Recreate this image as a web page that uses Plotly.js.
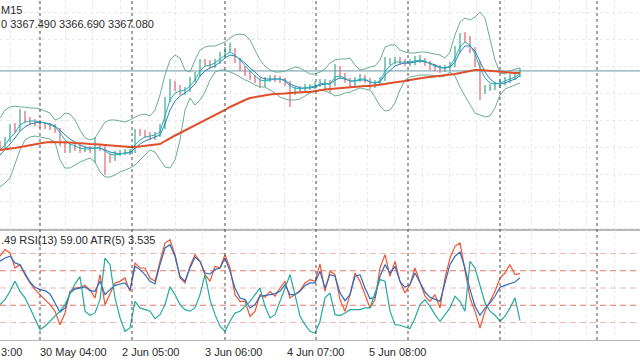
<!DOCTYPE html>
<html><head><meta charset="utf-8">
<script src="https://cdn.plot.ly/plotly-3.0.1.min.js"></script>
<style>html,body{margin:0;padding:0;background:#fff}#chart{width:640px;height:360px}</style>
</head><body><div id="chart"></div>
<script>
// ---- price candles (one sample per 5 px of the original chart) ----
const openP = [3331,3329,3332.5,3339,3337.5,3346,3342.5,3341.5,3341,3340,
3339.5,3339,3337.5,3331,3327.5,3329,3328.5,3327.5,3328,3327.5,
3329,3328.5,3324,3323.5,3325.5,3326,3326.5,3326.5,3336.5,3336,
3335,3334,3335,3339,3352.5,3361,3358.5,3356.5,3357.5,3362.5,
3365,3371.5,3371,3370,3371.5,3375,3377.5,3377.5,3372.5,3368.5,
3366,3364,3362.5,3360,3362.5,3363.5,3363,3362.5,3361,3356.5,
3357.5,3358,3359,3359,3360,3361.5,3361.5,3360,3368.5,3365,
3362.5,3360,3362.5,3364,3362.5,3360,3361,3362.5,3371.5,3371.5,
3372.5,3371.5,3371,3371.5,3372.5,3372.5,3371,3369,3368.5,3367.5,
3368.5,3370,3377.5,3384,3383.5,3377.5,3371,3357.5,3358.5,3359,
3360,3361.5,3362.5,3364,3365];
const highP = [3332,3334,3340.5,3341,3348,3347,3344,3343,3342.5,3341.5,
3341,3340.5,3338.5,3332,3330.5,3330.5,3330,3329.5,3329.5,3334,
3330.5,3329.5,3325.5,3327,3327.5,3328,3328,3338,3338,3337.5,
3336.5,3336.5,3340.5,3354,3363,3362,3360,3359,3364,3366.5,
3373,3373,3372.5,3373,3376.5,3379,3381,3378.5,3373.5,3369.5,
3367,3365,3363.5,3364,3365,3365,3364.5,3363.5,3362,3359,
3359.5,3360.5,3360.5,3361.5,3363,3363,3362.5,3370.5,3369.5,3366,
3363.5,3364,3365.5,3365,3363.5,3362.5,3364,3374,3373.5,3374,
3374,3373,3373,3374.5,3375,3373.5,3372,3370.5,3370,3370,
3371.5,3379.5,3386,3386.5,3384.5,3379,3372,3360,3360.5,3361.5,
3363,3364,3365.5,3366.5,3368.5];
const lowP = [3327.5,3328,3331.5,3336,3337,3341,3340,3339.5,3338.5,3338,
3337.5,3336,3329.5,3326,3326,3327,3326,3326.5,3326,3321,
3327,3315,3321,3322,3324.5,3325,3325,3326,3334.5,3333.5,
3332.5,3332.5,3334,3338,3351.5,3357,3355,3355,3356.5,3361.5,
3364,3369.5,3368.5,3368.5,3370.5,3374,3376,3371,3367,3364.5,
3362.5,3361,3358.5,3359,3361.5,3361.5,3361,3359.5,3349,3355,
3356,3357,3357.5,3358,3359,3358,3356,3359.5,3363.5,3361,
3358.5,3359,3361.5,3361,3358,3358.5,3360,3362,3370,3370.5,
3370,3369.5,3369.5,3370,3371,3369.5,3367.5,3367,3366,3366.5,
3367,3369,3376.5,3381,3376,3369,3352.5,3355.5,3357,3357.5,
3358.5,3360,3361,3362.5,3364];
const closeP = [3329,3332.5,3339,3337.5,3346,3342.5,3341.5,3341,3340,3339.5,
3339,3337.5,3331,3327.5,3329,3328.5,3327.5,3328,3327.5,3329,
3328.5,3324,3323.5,3325.5,3326,3326.5,3326.5,3336.5,3336,3335,
3334,3335,3339,3352.5,3361,3358.5,3356.5,3357.5,3362.5,3365,
3371.5,3371,3370,3371.5,3375,3377.5,3377.5,3372.5,3368.5,3366,
3364,3362.5,3360,3362.5,3363.5,3363,3362.5,3361,3356.5,3357.5,
3358,3359,3359,3360,3361.5,3361.5,3360,3368.5,3365,3362.5,
3360,3362.5,3364,3362.5,3360,3361,3362.5,3371.5,3371.5,3372.5,
3371.5,3371,3371.5,3372.5,3372.5,3371,3369,3368.5,3367.5,3368.5,
3370,3377.5,3384,3383.5,3377.5,3371,3357.5,3358.5,3359,3360,
3361.5,3362.5,3364,3365,3367.08];

// ---- price indicators ----
const bbUpper = [3343.5,3347.5,3349,3349.5,3349,3349,3348.5,3348.5,3348,3347,
3346,3342.5,3343.5,3346,3345.5,3342.5,3337.5,3333.5,3332.5,3333.5,
3337.5,3341.5,3342.5,3342.5,3342,3341.5,3342.5,3344,3345,3345.5,
3344.5,3347.5,3355,3365,3372.5,3375,3373.5,3367.5,3366.5,3372.5,
3377.5,3379,3379.5,3379.5,3380.5,3381.5,3383.5,3385,3385.5,3385,
3382.5,3377.5,3372.5,3369.5,3367.5,3366.5,3366.5,3367,3368,3369,
3368.5,3367,3365.5,3365.5,3366.5,3368,3371,3372.5,3373,3373,
3373.5,3370,3367.5,3368,3369,3369.5,3372.5,3379,3380,3380,
3377.5,3376.5,3376,3376,3376.5,3376.5,3376,3375.5,3375,3373.5,
3376.5,3385,3391.5,3393.5,3392.5,3394,3396.5,3393.5,3383.5,3372.5,
3366,3365.5,3367,3368,3368.5];
const bbLower = [3309,3311,3313.5,3320,3327.5,3332.5,3334,3334.5,3334,3333.5,
3333,3331.5,3322.5,3318.5,3318.5,3320,3321.5,3322.5,3323.5,3321.5,
3316.5,3314,3314,3315,3316.5,3317.5,3318.5,3320,3322.5,3325,
3327.5,3326.5,3322.5,3319,3318.5,3322.5,3332.5,3347.5,3353.5,3350,
3352.5,3356.5,3362.5,3366.5,3367.5,3367.5,3366.5,3365.5,3364,3362.5,
3361.5,3360,3359,3359,3357.5,3356,3354,3353,3352.5,3352.5,
3353,3354.5,3356,3357,3357.5,3357,3356,3354.5,3355,3356,
3356.5,3357.5,3358.5,3358,3357.5,3354,3349.5,3347,3347.5,3351,
3357.5,3362.5,3364,3364.5,3365,3365,3365,3364.5,3364,3364.5,
3366.5,3364.5,3359,3354.5,3350,3346,3345,3344,3344.5,3348.5,
3355,3358,3359,3360,3361];
const maFast = [3327.5,3330,3333.5,3336,3340,3341.5,3342,3342,3341.5,3341,
3340,3339,3336,3332.5,3330.5,3329.5,3328.5,3328,3328,3328.5,
3328.5,3327,3325.5,3325,3325.5,3326,3326.5,3330,3332.5,3334,
3334.5,3335,3336.5,3344,3352.5,3356,3357,3357.5,3359.5,3362.5,
3367,3369.5,3370,3371,3373,3375,3376.5,3375,3372.5,3369.5,
3367,3364.5,3362.5,3362,3362.5,3363,3363,3362,3359.5,3358.5,
3358,3358.5,3359,3359.5,3360.5,3361,3360.5,3364,3364.5,3363.5,
3362,3362,3363,3363,3361.5,3361,3362,3367,3369.5,3371.5,
3371.5,3371.5,3371.5,3372,3372.5,3372,3370.5,3369.5,3368.5,3368.5,
3369.5,3373.5,3379,3381.5,3380,3375.5,3368.5,3363.5,3361,3360.5,
3361,3362,3363,3364,3365.5];
const maSlow = [3325,3327.5,3330.5,3333.5,3337,3339,3340.5,3341,3341.5,3341,
3340.5,3339.5,3337.5,3335,3333,3331.5,3330,3329,3328.5,3328.5,
3328.5,3327.5,3326.5,3326,3325.5,3326,3326,3328.5,3330.5,3332,
3333,3334,3335,3340.5,3347.5,3352,3354.5,3356,3358,3360.5,
3364.5,3367,3368.5,3369.5,3371.5,3373.5,3375,3374.5,3373,3371,
3368.5,3366.5,3364,3363,3363,3363,3363,3362.5,3360.5,3359.5,
3358.5,3358.5,3358.5,3359,3360,3360.5,3360.5,3362.5,3363.5,3363,
3362,3362,3362.5,3362.5,3361.5,3361,3361.5,3365,3367.5,3369.5,
3370.5,3371,3371,3371.5,3372,3371.5,3371,3370,3369,3368.5,
3369,3371.5,3376.5,3379.5,3379.5,3377,3371.5,3366.5,3363,3361,
3360.5,3361,3362,3363,3364.5];
const maLong = [3327.5,3328,3328.25,3328.5,3329,3329.5,3330,3330.5,3331,3331.25,
3331.5,3331.5,3331.5,3331.5,3331.25,3331,3331,3330.75,3330.5,3330.5,
3330.25,3330,3329.75,3329.5,3329.5,3329.25,3329,3329,3329.25,3329.5,
3330,3330.25,3330.5,3332,3333.5,3334.75,3336,3337.25,3338.5,3339.75,
3341,3342.25,3343.5,3344.75,3346,3347.5,3349,3350.25,3351.5,3352.5,
3353.5,3354,3354.5,3355,3355.25,3355.5,3355.5,3355.75,3356,3356.25,
3356.25,3356.5,3356.5,3357,3357.25,3357.75,3358,3358.25,3358.5,3358.75,
3359,3359.25,3359.5,3359.5,3359.5,3359.75,3360,3360.5,3361,3361.25,
3361.5,3362,3362.5,3363,3363.5,3363.75,3364,3364.25,3364.5,3364.75,
3365,3365.5,3366,3366.5,3367.25,3367.5,3367.5,3367.25,3367,3366.75,
3366.5,3366.25,3366,3366,3366];

// ---- sub-window indicators ----
const rsiFast = [77.6,83.4,80.5,67.4,70.3,61.6,54.4,48.6,44.2,39.9,
35.5,29.7,18.1,28.3,47.1,50,50.6,52.3,48.6,41.3,
61.6,35.5,45.1,54.4,55.8,58.7,47.1,71.8,67.4,67.4,
58.7,55.8,73.2,89.1,92,79,58.7,54.4,68.9,79,
73.2,61.6,55.8,68.9,67.4,79,67.4,44.2,38.4,38.4,
25.4,29.7,44.2,41.9,47.1,42.8,50,55.8,41.3,44.2,
47.7,54.4,57.3,55.8,70.9,47.1,64.5,61.6,39.9,29.7,
44.2,63,55.8,44.2,32.6,39.9,67.4,79,60.2,73.2,
55.8,45.7,52.9,67.4,54.4,42.8,38.4,44.2,32.6,58.7,
76.1,86.2,89.1,64.5,41.3,29.7,15.2,29.7,38.4,47.1,
58.7,63,70.3,61.6,62.49];
const rsiSlow = [73.2,76.1,77.6,71.8,70.3,63,55.2,50.6,48.6,47.7,
44.8,37,29.1,32.6,45.7,49.1,50,50.9,47.7,47.1,
55.8,44.2,48.6,52.3,53.5,54.4,48.6,68.9,66,61.6,
55.8,53.5,70.3,84.8,87.7,77.6,60.2,55.8,67.4,76.7,
73.2,63,62.2,66,67.4,76.1,64.5,50,41.3,39.9,
32.6,35.5,42.8,43.3,44.2,45.1,47.1,52.9,44.2,44.2,
47.1,52.3,54.4,54.4,64.5,50,61.6,60.2,45.7,39,
44.2,60.2,61.6,50,40.7,41.9,60.2,70.3,63,68.9,
55.8,50.6,52.9,63,54.4,46.5,41.9,39.9,38.4,54.4,
70.3,77.6,81.3,67.4,48.6,34.1,26.2,32.6,37,42.8,
50.6,52.3,53.5,55.2,59.0];
const atr = [4.65,5.0,5.58,6.28,5.58,5.12,4.42,3.72,2.91,3.14,
3.49,3.77,4.19,4.65,5.35,6.1,6.6,4.19,3.91,4.07,
5.0,7.9,7.44,5.12,3.72,2.79,3.02,4.88,4.42,4.3,
4.19,3.67,3.95,4.65,5.9,5.35,4.65,4.3,4.19,4.42,
5.35,6.74,5.0,3.95,3.14,2.79,3.49,4.07,4.19,4.53,
4.88,5.35,5.81,4.53,3.72,3.95,4.88,5.7,6.74,5.35,
3.84,3.25,2.79,2.67,3.49,5.12,5.46,3.95,3.88,4.07,
4.3,4.3,4.3,4.42,4.42,5.46,6.4,6.28,4.19,3.25,
3.21,3.09,2.98,3.72,4.65,5.0,4.53,3.95,3.49,3.95,
4.42,5.23,4.88,4.19,7.67,7.21,6.05,4.77,4.19,3.91,
3.49,3.84,4.42,5.12,3.535];

// ---- time axis (in bar-sample units) and texts ----
const timeLabels = ["30 May 04:00","2 Jun 05:00","3 Jun 06:00","4 Jun 07:00","5 Jun 08:00"];
const labelBars = [7.6, 24.06, 40.52, 56.98, 73.44];
const edgeLabel = "3:00";
const separatorBars = [8, 26.4, 45, 63.2, 81.6, 100, 119.4];
const rsiLevels = [80, 65, 50, 35, 20];
const header1 = "M15";
const header2 = "0 3367.490 3366.690 3367.080";
const subHeader = ".49 RSI(13) 59.00 ATR(5) 3.535";

const bars = closeP.map((_, i) => i);
const lastClose = closeP[closeP.length - 1];

const line = (y, color, width, xa, ya) => ({type:'scatter', mode:'lines', x:bars, y:y,
  line:{color:color, width:width}, xaxis:xa, yaxis:ya, hoverinfo:'skip'});

const traces = [
  {type:'ohlc', x:bars, open:openP, high:highP, low:lowP, close:closeP,
   increasing:{line:{color:'#3aa98c', width:1.3}},
   decreasing:{line:{color:'#e0646e', width:1.3}},
   tickwidth:0.15, xaxis:'x', yaxis:'y', hoverinfo:'skip', opacity:0.9},
  line(bbUpper, '#6aad94', 1, 'x', 'y'),
  line(bbLower, '#6aad94', 1, 'x', 'y'),
  line(maSlow, '#2f80b6', 1, 'x', 'y'),
  line(maFast, '#1fb3bd', 1, 'x', 'y'),
  line(maLong, '#de4f2c', 2, 'x', 'y'),
  line(atr, '#23aaa0', 1.2, 'x2', 'y3'),
  line(rsiFast, '#ef5533', 1.2, 'x2', 'y2'),
  line(rsiSlow, '#2e6cc0', 1.2, 'x2', 'y2')
];

const shapes = [];
separatorBars.forEach(b => shapes.push({type:'line', xref:'x', yref:'paper', x0:b, x1:b, y0:0, y1:1,
  line:{color:'#4a4a4a', width:1, dash:'3px,3px'}, layer:'above'}));
shapes.push({type:'line', xref:'paper', x0:0, x1:1, yref:'y', y0:lastClose, y1:lastClose,
  line:{color:'#a8c3cc', width:1.6}, layer:'below'});
rsiLevels.forEach(v => shapes.push({type:'line', xref:'paper', x0:0, x1:1, yref:'y2', y0:v, y1:v,
  line:{color:(v === 65 || v === 35) ? '#e4786c' : '#ebb9b3', width:1, dash:'6px,4px'}, layer:'below'}));

const annotations = [
  {xref:'paper', yref:'paper', x:0, y:0.9706, xanchor:'left', yanchor:'middle', text:header1, showarrow:false, borderpad:0},
  {xref:'paper', yref:'paper', x:0, y:0.928, xanchor:'left', yanchor:'middle', text:header2, showarrow:false, borderpad:0},
  {xref:'paper', yref:'paper', x:0, y:0.294, xanchor:'left', yanchor:'middle', text:subHeader, showarrow:false, borderpad:0},
  {xref:'paper', yref:'paper', x:0, y:-0.035, xanchor:'left', yanchor:'middle', text:edgeLabel, showarrow:false, borderpad:0}
];
timeLabels.forEach((t, i) => annotations.push({xref:'x2', yref:'paper', x:labelBars[i], y:-0.035,
  xanchor:'left', yanchor:'middle', text:t, showarrow:false}));

const gridX = {showgrid:true, tick0:7.6, dtick:5.487, gridcolor:'#e8e8e8', griddash:'dot', gridwidth:1,
  showticklabels:false, ticks:'', zeroline:false, showline:true, mirror:true, linecolor:'#b9b9b9', linewidth:1,
  range:[0,128], fixedrange:true};

const layout = {
  width:640, height:360, margin:{l:0, r:0, t:0, b:20, pad:0},
  paper_bgcolor:'#ffffff', plot_bgcolor:'#ffffff', showlegend:false,
  font:{family:'Liberation Sans, Arial, sans-serif', size:11, color:'#2a2a2a'},
  xaxis:Object.assign({anchor:'y', domain:[0,1], rangeslider:{visible:false}}, gridX),
  xaxis2:Object.assign({anchor:'y2', domain:[0,1]}, gridX),
  yaxis:{anchor:'x', domain:[0.3235,1], range:[3287.5,3402.5], showgrid:true, tick0:3302, dtick:13.5,
    gridcolor:'#e8e8e8', griddash:'dot', showticklabels:false, ticks:'', zeroline:false, fixedrange:true},
  yaxis2:{anchor:'x2', domain:[0,0.3235], range:[4.78,100.43], showgrid:false, showticklabels:false,
    ticks:'', zeroline:false, fixedrange:true},
  yaxis3:{anchor:'x2', overlaying:'y2', range:[2.18,9.86], visible:false, showgrid:false, zeroline:false},
  shapes:shapes, annotations:annotations, hovermode:false
};

Plotly.newPlot('chart', traces, layout, {displayModeBar:false, staticPlot:true});
</script></body></html>
